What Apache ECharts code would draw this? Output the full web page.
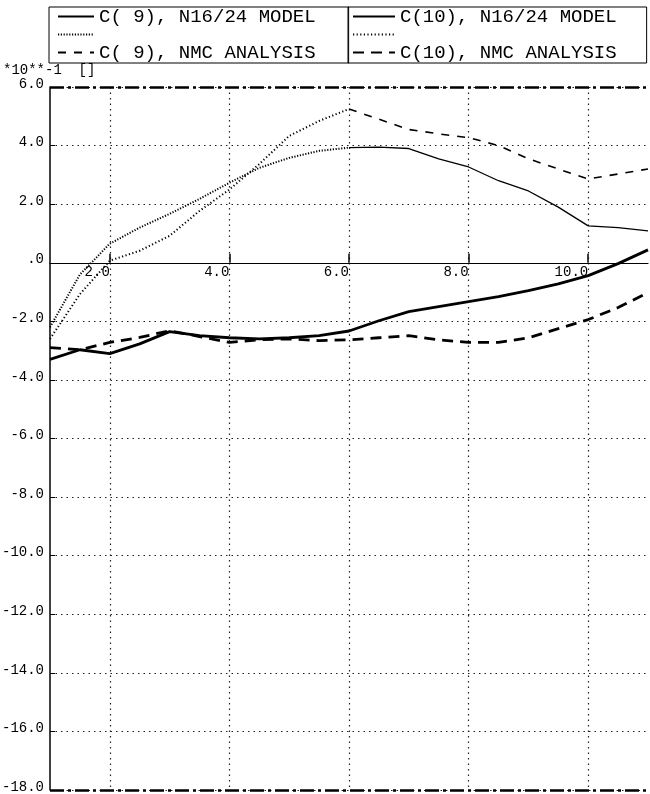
<!DOCTYPE html>
<html>
<head>
<meta charset="utf-8">
<script src="https://cdn.jsdelivr.net/npm/echarts@6/dist/echarts.min.js"></script>
<style>
html,body{margin:0;padding:0;background:#fff;}
#chart{width:650px;height:794px;}
</style>
</head>
<body>
<div id="chart"></div>
<script>
// ---- data ----
const xs = [1,1.5,2,2.5,3,3.5,4,4.5,5,5.5,6,6.5,7,7.5,8,8.5,9,9.5,10,10.5,11];
const c9Model    = [-2.2,-0.4,0.65,1.2,1.67,2.18,2.73,3.24,3.58,3.82,3.93,3.95,3.9,3.55,3.27,2.8,2.45,1.9,1.26,1.2,1.09];
const c9Analysis = [-2.6,-1.07,0.07,0.41,0.92,1.77,2.5,3.37,4.33,4.84,5.25,4.9,4.55,4.4,4.27,4.0,3.55,3.2,2.86,3.03,3.2];
const c10Model    = [-3.3,-2.97,-3.1,-2.77,-2.35,-2.49,-2.56,-2.6,-2.56,-2.49,-2.33,-1.98,-1.67,-1.5,-1.33,-1.16,-0.95,-0.72,-0.44,-0.03,0.44];
const c10Analysis = [-2.9,-2.97,-2.72,-2.55,-2.32,-2.52,-2.72,-2.63,-2.6,-2.66,-2.63,-2.56,-2.49,-2.63,-2.72,-2.72,-2.56,-2.25,-1.94,-1.53,-1.02];
const xTicks = [2,4,6,8,10];
const xMin = 1, xMax = 11;
const yMin = -18, yMax = 6, yStep = 2;
const dottedEnd = 6; // early part of the upper curves is plotted dotted
const names = {
  c9m: 'C( 9), N16/24 MODEL',
  c9a: 'C( 9), NMC ANALYSIS',
  c10m: 'C(10), N16/24 MODEL',
  c10a: 'C(10), NMC ANALYSIS',
  dot1: ' ',
  dot2: '  '
};
const unitLabel = '*10**-1  []';

// ---- build ----
const pairs = arr => xs.map((x, i) => [x, arr[i]]);
const early = arr => pairs(arr).filter(p => p[0] <= dottedEnd);
const late = arr => pairs(arr).filter(p => p[0] >= dottedEnd);
const FONT = 'Liberation Mono';
const chart = echarts.init(document.getElementById('chart'), null, {renderer: 'canvas'});

const legendCommon = {
  orient: 'vertical',
  top: 7,
  itemHeight: 14,
  itemGap: -1,
  borderColor: '#000',
  borderWidth: 1,
  borderRadius: 0,
  textStyle: {fontFamily: FONT, fontSize: 19, color: '#000'},
  itemStyle: {opacity: 0},
  selectedMode: false
};

chart.setOption({
  backgroundColor: '#fff',
  animation: false,
  title: {
    text: unitLabel, left: 3, top: 63, padding: 0,
    textStyle: {fontFamily: FONT, fontSize: 14, fontWeight: 'normal', color: '#000'}
  },
  legend: [
    Object.assign({}, legendCommon, {
      left: 49, itemWidth: 36, padding: [0, 33, 1, 8],
      data: [names.c9m, names.dot1, names.c9a]
    }),
    Object.assign({}, legendCommon, {
      left: 348, itemWidth: 42, padding: [0, 30, 1, 4],
      data: [names.c10m, names.dot2, names.c10a]
    })
  ],
  grid: {left: 50, right: 2, top: 87, bottom: 4, containLabel: false, outerBoundsMode: 'none'},
  xAxis: {
    type: 'value', min: xMin, max: xMax, interval: 1, position: 'bottom',
    axisLine: {show: true, onZero: false, lineStyle: {color: '#000', width: 1.2}},
    axisTick: {show: true, inside: true, length: 9, customValues: xTicks, lineStyle: {color: '#000', width: 1.5}},
    axisLabel: {
      customValues: xTicks, color: '#000', fontFamily: FONT, fontSize: 14,
      align: 'right', margin: 3,
      formatter: v => v.toFixed(1)
    },
    splitLine: {show: true, lineStyle: {color: '#222', type: [1.5, 4], width: 1.2}}
  },
  yAxis: {
    type: 'value', min: yMin, max: yMax, interval: yStep,
    axisLine: {show: true, onZero: false, lineStyle: {color: '#000', width: 1.5}},
    axisTick: {show: true, inside: true, length: 5, lineStyle: {color: '#000'}},
    axisLabel: {
      color: '#000', fontFamily: FONT, fontSize: 14, margin: 6,
      verticalAlign: 'bottom', lineHeight: 14, padding: [0, 0, -4, 0],
      formatter: v => (v === 0 ? '.0' : v.toFixed(1))
    },
    splitLine: {show: true, lineStyle: {color: '#222', type: [1.5, 4], width: 1.2}}
  },
  series: [
    {
      name: names.c9m, type: 'line', data: late(c9Model), symbol: 'none',
      lineStyle: {color: '#000', width: 1.3, type: 'solid'}, z: 3
    },
    {
      name: names.dot1, type: 'line', data: early(c9Model), symbol: 'none',
      lineStyle: {color: '#000', width: 2, type: [1.2, 1.6]}, z: 3
    },
    {
      name: names.c9a, type: 'line', data: late(c9Analysis), symbol: 'none',
      lineStyle: {color: '#000', width: 1.6, type: [8, 8]}, z: 3
    },
    {
      name: names.dot2, type: 'line', data: early(c9Analysis), symbol: 'none',
      lineStyle: {color: '#000', width: 2, type: [1.2, 2.4]}, z: 3
    },
    {
      name: names.c10m, type: 'line', data: pairs(c10Model), symbol: 'none',
      lineStyle: {color: '#000', width: 2.8, type: 'solid'}, z: 4,
      markLine: {
        silent: true, symbol: 'none', label: {show: false},
        lineStyle: {color: '#000', width: 2.5, type: [14, 4, 3, 4]},
        data: [{yAxis: yMax}, {yAxis: yMin}]
      }
    },
    {
      name: names.c10a, type: 'line', data: pairs(c10Analysis), symbol: 'none',
      lineStyle: {color: '#000', width: 2.8, type: [11, 7]}, z: 4
    }
  ]
});

// move the x axis (line, ticks, labels) onto the y = 0 line
const yZeroPx = chart.convertToPixel({yAxisIndex: 0}, 0);
const yBottomPx = chart.convertToPixel({yAxisIndex: 0}, yMin);
chart.setOption({xAxis: {offset: yZeroPx - yBottomPx}});
</script>
</body>
</html>
